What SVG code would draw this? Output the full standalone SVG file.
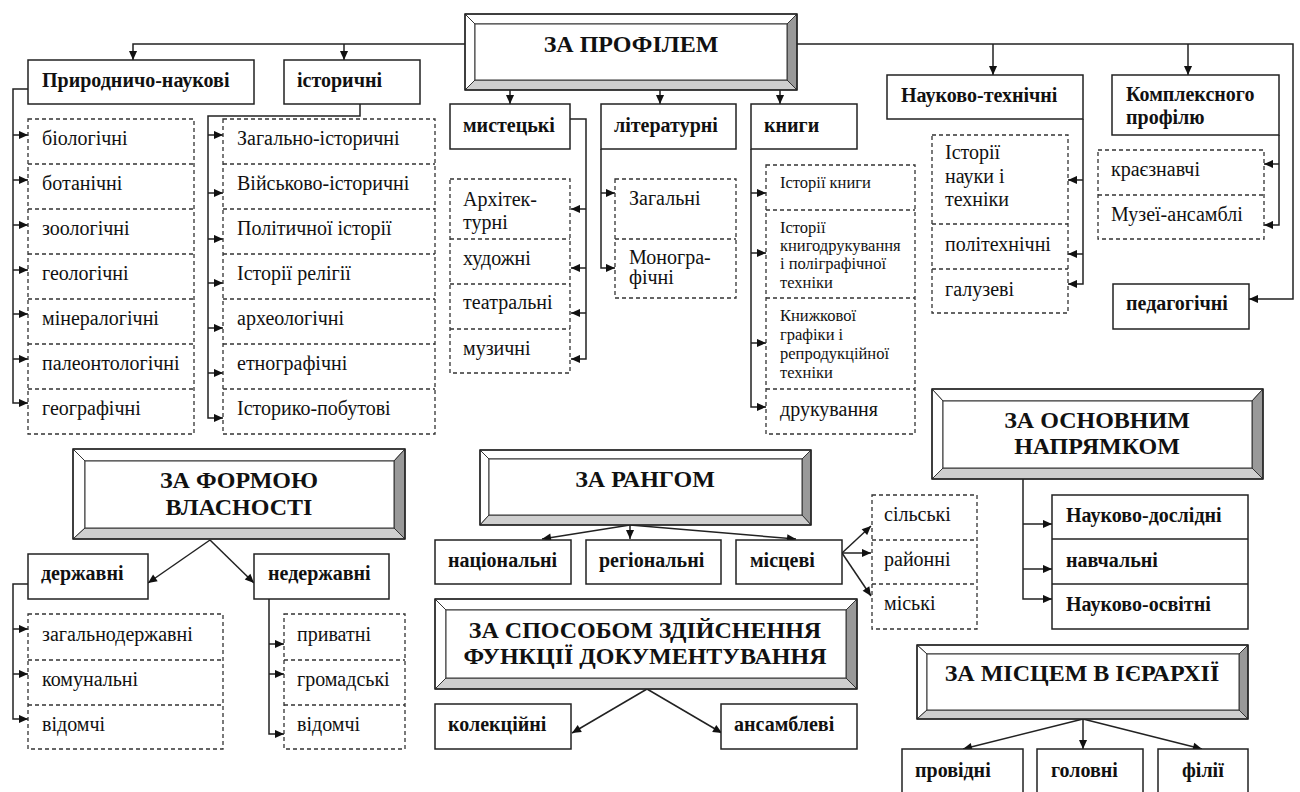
<svg xmlns="http://www.w3.org/2000/svg" width="1300" height="792" viewBox="0 0 1300 792">
<style>
text{fill:#111;font-family:"Liberation Serif","Times New Roman",serif}
.b{font-weight:bold;font-size:20px}
.r{font-size:20px}
.s{font-size:16.5px}
.h{font-weight:bold;font-size:24px;text-anchor:middle}
.box{fill:#fff;stroke:#222;stroke-width:1.5}
.dash{fill:#fff;stroke:#333;stroke-width:1.3;stroke-dasharray:4 3}
.sep{stroke:#333;stroke-width:1.3;stroke-dasharray:4 3}
.sol{stroke:#222;stroke-width:1.5}
.bl{fill:#fff;stroke:#333;stroke-width:1}
.bd{fill:#999;stroke:#333;stroke-width:1}
.bg{fill:#cfcfcf;stroke:#333;stroke-width:1}
.bo{fill:none;stroke:#222;stroke-width:1.5}
#connectors path{fill:none;stroke:#222;stroke-width:1.5}
.a{marker-end:url(#ah)}
</style>
<defs>
<marker id="ah" viewBox="0 0 10 10" refX="10" refY="5" markerWidth="10" markerHeight="9" markerUnits="userSpaceOnUse" orient="auto"><path d="M0,0.5 L10,5 L0,9.5 z" fill="#111"/></marker>
</defs>
<rect width="1300" height="792" fill="#fff"/>

<g id="connectors">
<path class="a" d="M465,44 H133 V60"/>
<path class="a" d="M344,44 V60"/>
<path class="a" d="M797,44 H1293 V299 H1249"/>
<path class="a" d="M993,44 V75"/>
<path class="a" d="M1188,44 V75"/>
<path class="a" d="M510,90 V104"/>
<path class="a" d="M660,90 V104"/>
<path class="a" d="M780,90 V104"/>
<path class="a" d="M28,89 H13 V403 H28"/>
<path class="a" d="M13,135 H28"/><path class="a" d="M13,180 H28"/><path class="a" d="M13,225 H28"/><path class="a" d="M13,270 H28"/><path class="a" d="M13,314 H28"/><path class="a" d="M13,359 H28"/>
<path class="a" d="M360,104 V116 H208 V418 H223"/>
<path class="a" d="M208,135 H223"/><path class="a" d="M208,193 H223"/><path class="a" d="M208,239 H223"/><path class="a" d="M208,283 H223"/><path class="a" d="M208,328 H223"/><path class="a" d="M208,373 H223"/>
<path class="a" d="M570,119 H586 V359 H571"/>
<path class="a" d="M586,209 H571"/><path class="a" d="M586,268 H571"/><path class="a" d="M586,313 H571"/>
<path class="a" d="M601,149 V268 H615"/>
<path class="a" d="M601,193 H615"/>
<path class="a" d="M751,149 V407 H766"/>
<path class="a" d="M751,193 H766"/><path class="a" d="M751,253 H766"/><path class="a" d="M751,343 H766"/>
<path class="a" d="M1083,119 V284 H1068"/>
<path class="a" d="M1083,180 H1068"/><path class="a" d="M1083,254 H1068"/>
<path class="a" d="M1279,135 V225 H1264"/>
<path class="a" d="M1279,164 H1264"/>
<path class="a" d="M210,540 L148,583"/>
<path class="a" d="M210,540 L254,583"/>
<path class="a" d="M28,584 H13 V719 H28"/>
<path class="a" d="M13,629 H28"/><path class="a" d="M13,674 H28"/>
<path class="a" d="M269,599 V734 H284"/>
<path class="a" d="M269,644 H284"/><path class="a" d="M269,674 H284"/>
<path class="a" d="M630,525 L542,539"/>
<path class="a" d="M630,525 V539"/>
<path class="a" d="M630,525 L796,539"/>
<path class="a" d="M842,553 L871,526"/>
<path class="a" d="M842,553 H871"/>
<path class="a" d="M842,553 L871,596"/>
<path class="a" d="M647,689 L572,733"/>
<path class="a" d="M647,689 L722,733"/>
<path class="a" d="M1023,479 V599 H1052"/>
<path class="a" d="M1023,524 H1052"/><path class="a" d="M1023,569 H1052"/>
<path class="a" d="M1083,719 L963,749"/>
<path class="a" d="M1083,719 V749"/>
<path class="a" d="M1083,719 L1202,749"/>
</g>

<g id="za-profilem">
<polygon class="bl" points="465,14 797,14 787,24 475,24"/>
<polygon class="bl" points="465,14 475,24 475,80 465,90"/>
<polygon class="bd" points="797,14 797,90 787,80 787,24"/>
<polygon class="bg" points="465,90 475,80 787,80 797,90"/>
<rect class="bl" x="475" y="24" width="312" height="56"/>
<rect class="bo" x="465" y="14" width="332" height="76"/>
<text class="h" x="631" y="52">ЗА ПРОФІЛЕМ</text>
</g>

<g id="pryrodnycho">
<rect class="box" x="28" y="60" width="226" height="44"/>
<text class="b" x="42" y="87">Природничо-наукові</text>
</g>
<g id="pryrodnycho-list">
<rect class="dash" x="28" y="119" width="166" height="315"/>
<line class="sep" x1="28" y1="164" x2="194" y2="164"/>
<line class="sep" x1="28" y1="209" x2="194" y2="209"/>
<line class="sep" x1="28" y1="254" x2="194" y2="254"/>
<line class="sep" x1="28" y1="299" x2="194" y2="299"/>
<line class="sep" x1="28" y1="344" x2="194" y2="344"/>
<line class="sep" x1="28" y1="389" x2="194" y2="389"/>
<text class="r" x="42" y="145">біологічні</text>
<text class="r" x="42" y="190">ботанічні</text>
<text class="r" x="42" y="235">зоологічні</text>
<text class="r" x="42" y="280">геологічні</text>
<text class="r" x="42" y="325">мінералогічні</text>
<text class="r" x="42" y="370">палеонтологічні</text>
<text class="r" x="42" y="415">географічні</text>
</g>

<g id="istorychni">
<rect class="box" x="284" y="60" width="136" height="44"/>
<text class="b" x="297" y="87">історичні</text>
</g>
<g id="istorychni-list">
<rect class="dash" x="223" y="119" width="212" height="315"/>
<line class="sep" x1="223" y1="164" x2="435" y2="164"/>
<line class="sep" x1="223" y1="209" x2="435" y2="209"/>
<line class="sep" x1="223" y1="254" x2="435" y2="254"/>
<line class="sep" x1="223" y1="299" x2="435" y2="299"/>
<line class="sep" x1="223" y1="344" x2="435" y2="344"/>
<line class="sep" x1="223" y1="389" x2="435" y2="389"/>
<text class="r" x="237" y="145">Загально-історичні</text>
<text class="r" x="237" y="190">Військово-історичні</text>
<text class="r" x="237" y="235">Політичної історії</text>
<text class="r" x="237" y="280">Історії релігії</text>
<text class="r" x="237" y="325">археологічні</text>
<text class="r" x="237" y="370">етнографічні</text>
<text class="r" x="237" y="415">Історико-побутові</text>
</g>

<g id="mystetski">
<rect class="box" x="450" y="104" width="120" height="45"/>
<text class="b" x="463" y="132">мистецькі</text>
</g>
<g id="mystetski-list">
<rect class="dash" x="450" y="179" width="120" height="194"/>
<line class="sep" x1="450" y1="239" x2="570" y2="239"/>
<line class="sep" x1="450" y1="284" x2="570" y2="284"/>
<line class="sep" x1="450" y1="329" x2="570" y2="329"/>
<text class="r" x="463" y="206">Архітек-</text>
<text class="r" x="463" y="229">турні</text>
<text class="r" x="463" y="265">художні</text>
<text class="r" x="463" y="309">театральні</text>
<text class="r" x="463" y="355">музичні</text>
</g>

<g id="literaturni">
<rect class="box" x="601" y="104" width="135" height="45"/>
<text class="b" x="614" y="132">літературні</text>
</g>
<g id="literaturni-list">
<rect class="dash" x="615" y="179" width="121" height="119"/>
<line class="sep" x1="615" y1="239" x2="736" y2="239"/>
<text class="r" x="629" y="205">Загальні</text>
<text class="r" x="629" y="264">Моногра-</text>
<text class="r" x="629" y="284">фічні</text>
</g>

<g id="knyhy">
<rect class="box" x="751" y="104" width="106" height="45"/>
<text class="b" x="764" y="132">книги</text>
</g>
<g id="knyhy-list">
<rect class="dash" x="766" y="165" width="149" height="269"/>
<line class="sep" x1="766" y1="210" x2="915" y2="210"/>
<line class="sep" x1="766" y1="298" x2="915" y2="298"/>
<line class="sep" x1="766" y1="389" x2="915" y2="389"/>
<text class="s" x="780" y="188">Історії книги</text>
<text class="s" x="780" y="233">Історії</text>
<text class="s" x="780" y="251">книгодрукування</text>
<text class="s" x="780" y="269">і поліграфічної</text>
<text class="s" x="780" y="288">техніки</text>
<text class="s" x="780" y="321">Книжкової</text>
<text class="s" x="780" y="340">графіки і</text>
<text class="s" x="780" y="359">репродукційної</text>
<text class="s" x="780" y="378">техніки</text>
<text class="r" x="780" y="416">друкування</text>
</g>

<g id="naukovo-tekhnichni">
<rect class="box" x="887" y="75" width="196" height="44"/>
<text class="b" x="901" y="102">Науково-технічні</text>
</g>
<g id="naukovo-tekhnichni-list">
<rect class="dash" x="932" y="135" width="136" height="178"/>
<line class="sep" x1="932" y1="224" x2="1068" y2="224"/>
<line class="sep" x1="932" y1="269" x2="1068" y2="269"/>
<text class="r" x="945" y="159">Історії</text>
<text class="r" x="945" y="183">науки і</text>
<text class="r" x="945" y="206">техніки</text>
<text class="r" x="945" y="251">політехнічні</text>
<text class="r" x="945" y="296">галузеві</text>
</g>

<g id="kompleksnoho">
<rect class="box" x="1112" y="75" width="167" height="60"/>
<text class="b" x="1126" y="101">Комплексного</text>
<text class="b" x="1126" y="124">профілю</text>
</g>
<g id="kompleksnoho-list">
<rect class="dash" x="1098" y="150" width="166" height="89"/>
<line class="sep" x1="1098" y1="195" x2="1264" y2="195"/>
<text class="r" x="1111" y="176">краєзнавчі</text>
<text class="r" x="1111" y="221">Музеї-ансамблі</text>
</g>

<g id="pedahohichni">
<rect class="box" x="1113" y="284" width="136" height="45"/>
<text class="b" x="1126" y="310">педагогічні</text>
</g>

<g id="za-formoyu">
<polygon class="bl" points="73,449 405,449 394,461 85,461"/>
<polygon class="bl" points="73,449 85,461 85,528 73,539"/>
<polygon class="bd" points="405,449 405,539 394,528 394,461"/>
<polygon class="bg" points="73,539 85,528 394,528 405,539"/>
<rect class="bl" x="85" y="461" width="309" height="67"/>
<rect class="bo" x="73" y="449" width="332" height="90"/>
<text class="h" x="239" y="488">ЗА ФОРМОЮ</text>
<text class="h" x="239" y="515">ВЛАСНОСТІ</text>
</g>

<g id="derzhavni">
<rect class="box" x="28" y="554" width="120" height="45"/>
<text class="b" x="41" y="580">державні</text>
</g>
<g id="derzhavni-list">
<rect class="dash" x="28" y="614" width="195" height="135"/>
<line class="sep" x1="28" y1="660" x2="223" y2="660"/>
<line class="sep" x1="28" y1="705" x2="223" y2="705"/>
<text class="r" x="42" y="641">загальнодержавні</text>
<text class="r" x="42" y="686">комунальні</text>
<text class="r" x="42" y="731">відомчі</text>
</g>

<g id="nederzhavni">
<rect class="box" x="254" y="554" width="135" height="45"/>
<text class="b" x="268" y="580">недержавні</text>
</g>
<g id="nederzhavni-list">
<rect class="dash" x="284" y="614" width="121" height="135"/>
<line class="sep" x1="284" y1="660" x2="405" y2="660"/>
<line class="sep" x1="284" y1="705" x2="405" y2="705"/>
<text class="r" x="297" y="641">приватні</text>
<text class="r" x="297" y="686">громадські</text>
<text class="r" x="297" y="731">відомчі</text>
</g>

<g id="za-rangom">
<polygon class="bl" points="480,450 811,450 802,459 489,459"/>
<polygon class="bl" points="480,450 489,459 489,515 480,525"/>
<polygon class="bd" points="811,450 811,525 802,515 802,459"/>
<polygon class="bg" points="480,525 489,515 802,515 811,525"/>
<rect class="bl" x="489" y="459" width="313" height="56"/>
<rect class="bo" x="480" y="450" width="331" height="75"/>
<text class="h" x="645" y="487">ЗА РАНГОМ</text>
</g>

<g id="natsionalni">
<rect class="box" x="435" y="540" width="136" height="44"/>
<text class="b" x="448" y="567">національні</text>
</g>
<g id="rehionalni">
<rect class="box" x="586" y="540" width="135" height="44"/>
<text class="b" x="599" y="567">регіональні</text>
</g>
<g id="mistsevi">
<rect class="box" x="736" y="540" width="106" height="44"/>
<text class="b" x="750" y="567">місцеві</text>
</g>
<g id="mistsevi-list">
<rect class="dash" x="872" y="495" width="105" height="134"/>
<line class="sep" x1="872" y1="540" x2="977" y2="540"/>
<line class="sep" x1="872" y1="584" x2="977" y2="584"/>
<text class="r" x="884" y="521">сільські</text>
<text class="r" x="884" y="566">районні</text>
<text class="r" x="884" y="610">міські</text>
</g>

<g id="za-sposobom">
<polygon class="bl" points="435,599 857,599 846,610 446,610"/>
<polygon class="bl" points="435,599 446,610 446,678 435,689"/>
<polygon class="bd" points="857,599 857,689 846,678 846,610"/>
<polygon class="bg" points="435,689 446,678 846,678 857,689"/>
<rect class="bl" x="446" y="610" width="400" height="68"/>
<rect class="bo" x="435" y="599" width="422" height="90"/>
<text class="h" x="645" y="638">ЗА СПОСОБОМ ЗДІЙСНЕННЯ</text>
<text class="h" x="645" y="664">ФУНКЦІЇ ДОКУМЕНТУВАННЯ</text>
</g>

<g id="kolektsiini">
<rect class="box" x="435" y="704" width="136" height="45"/>
<text class="b" x="448" y="731">колекційні</text>
</g>
<g id="ansamblevi">
<rect class="box" x="721" y="704" width="136" height="45"/>
<text class="b" x="734" y="731">ансамблеві</text>
</g>

<g id="za-osnovnym">
<polygon class="bl" points="932,389 1263,389 1252,401 943,401"/>
<polygon class="bl" points="932,389 943,401 943,468 932,479"/>
<polygon class="bd" points="1263,389 1263,479 1252,468 1252,401"/>
<polygon class="bg" points="932,479 943,468 1252,468 1263,479"/>
<rect class="bl" x="943" y="401" width="309" height="67"/>
<rect class="bo" x="932" y="389" width="331" height="90"/>
<text class="h" x="1097" y="428">ЗА ОСНОВНИМ</text>
<text class="h" x="1097" y="454">НАПРЯМКОМ</text>
</g>

<g id="za-osnovnym-list">
<rect class="box" x="1052" y="495" width="196" height="134"/>
<line class="sol" x1="1052" y1="539" x2="1248" y2="539"/>
<line class="sol" x1="1052" y1="584" x2="1248" y2="584"/>
<text class="b" x="1066" y="522">Науково-дослідні</text>
<text class="b" x="1066" y="567">навчальні</text>
<text class="b" x="1066" y="611">Науково-освітні</text>
</g>

<g id="za-mistsem">
<polygon class="bl" points="917,645 1248,645 1239,654 927,654"/>
<polygon class="bl" points="917,645 927,654 927,710 917,719"/>
<polygon class="bd" points="1248,645 1248,719 1239,710 1239,654"/>
<polygon class="bg" points="917,719 927,710 1239,710 1248,719"/>
<rect class="bl" x="927" y="654" width="312" height="56"/>
<rect class="bo" x="917" y="645" width="331" height="74"/>
<text class="h" x="1082" y="681">ЗА МІСЦЕМ В ІЄРАРХІЇ</text>
</g>

<g id="providni">
<rect class="box" x="902" y="749" width="121" height="55"/>
<text class="b" x="915" y="777">провідні</text>
</g>
<g id="holovni">
<rect class="box" x="1037" y="749" width="106" height="55"/>
<text class="b" x="1051" y="777">головні</text>
</g>
<g id="filii">
<rect class="box" x="1158" y="749" width="90" height="55"/>
<text class="b" x="1182" y="777">філії</text>
</g>
</svg>
